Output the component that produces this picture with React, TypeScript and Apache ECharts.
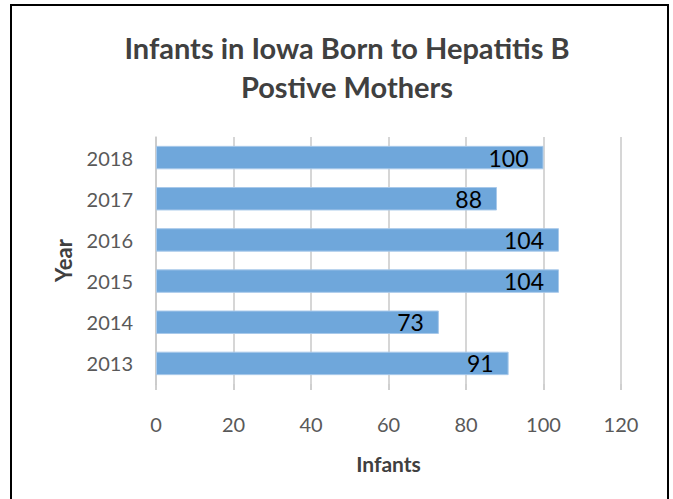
import React, { useEffect, useRef } from "react";
import * as echarts from "echarts";

const years = ["2013", "2014", "2015", "2016", "2017", "2018"];
const infants = [91, 73, 104, 104, 88, 100];
const xTicks = { min: 0, max: 120, interval: 20 };
const titleLines = ["Infants in Iowa Born to Hepatitis B", "Postive Mothers"];

export default function App() {
  const ref = useRef<HTMLDivElement>(null);
  useEffect(() => {
    const chart = echarts.init(ref.current!, null, { renderer: "svg" });
    const font = "Lato, 'Open Sans', sans-serif";
    chart.setOption({
      animation: false,
      backgroundColor: "#ffffff",
      textStyle: { fontFamily: font },
      title: {
        text: titleLines.join("\n"),
        left: 342,
        textAlign: "center",
        top: 23,
        textStyle: {
          fontFamily: font,
          fontSize: 29,
          fontWeight: "bold",
          color: "#404040",
          lineHeight: 39,
        },
      },
      graphic: [
        {
          type: "rect",
          shape: { x: 11, y: 5, width: 657, height: 520 },
          style: { fill: "none", stroke: "#000000", lineWidth: 2 },
          silent: true,
        },
      ],
      grid: { left: 156, right: 52, top: 137, bottom: 115 },
      xAxis: {
        type: "value",
        min: xTicks.min,
        max: xTicks.max,
        interval: xTicks.interval,
        name: "Infants",
        nameLocation: "middle",
        nameGap: 69,
        nameTextStyle: { fontFamily: font, fontSize: 21, fontWeight: "bold", color: "#404040" },
        axisLine: { show: false },
        axisTick: { show: true, length: 6, lineStyle: { color: "#bfbfbf", width: 1.5 } },
        axisLabel: { fontFamily: font, fontSize: 20, color: "#595959", margin: 30 },
        splitLine: { show: true, lineStyle: { color: "#c8c8c8", width: 1.5 } },
      },
      yAxis: {
        type: "category",
        data: years,
        name: "Year",
        nameLocation: "middle",
        nameGap: 82,
        nameRotate: 90,
        nameTextStyle: { fontFamily: font, fontSize: 22, fontWeight: "bold", color: "#404040" },
        axisLine: { show: true, lineStyle: { color: "#c8c8c8", width: 1.5 } },
        axisTick: { show: false },
        axisLabel: { fontFamily: font, fontSize: 20, color: "#595959", margin: 23 },
        splitLine: { show: false },
      },
      series: [
        {
          type: "bar",
          data: infants,
          barCategoryGap: "43%",
          itemStyle: { color: "#6fa7db", borderColor: "#a8c9ea", borderWidth: 1 },
          label: {
            show: true,
            position: "insideRight",
            distance: 15,
            fontFamily: font,
            fontSize: 23,
            color: "#000000",
          },
        },
      ],
    });
    return () => chart.dispose();
  }, []);
  return (
    <div
      ref={ref}
      style={{ position: "fixed", left: 0, top: 0, width: 673, height: 499 }}
    />
  );
}
